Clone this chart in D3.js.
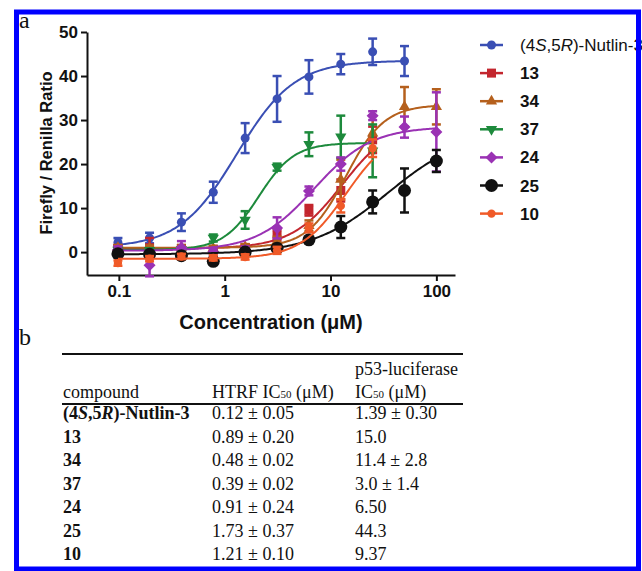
<!DOCTYPE html>
<html>
<head>
<meta charset="utf-8">
<script src="https://cdn.jsdelivr.net/npm/d3@7"></script>
<style>
  body { margin: 0; background: #fff; }
  svg { display: block; }
</style>
</head>
<body>
<div id="chart"></div>
<script>
// concentrations (uM), shared by all compounds
var conc = [0.098, 0.195, 0.39, 0.78, 1.56, 3.125, 6.25, 12.5, 25, 50, 100];

// series values (null = not measured)
var names = ["nutlin", "13", "34", "37", "24", "25", "10"];
var nutlin = [2.2, 3.2, 6.8, 13.6, 25.9, 34.8, 39.8, 42.7, 45.5, 43.4, null];
var nutlin_err = [1.0, 1.2, 2.0, 2.4, 3.4, 5.2, 3.8, 2.3, 3.0, 3.4, null];
var c13 = [0.8, 1.0, 0.8, 0.6, 1.0, 3.8, 9.5, 14.0, 25.5, null, null];
var c13_err = [0.8, 2.2, 0.8, 0.8, 0.8, 1.2, 1.2, 2.5, 3.0, null, null];
var c34 = [1.0, 0.9, 1.0, 0.8, 1.2, 2.5, 6.0, 16.5, 27.0, 33.0, 33.0];
var c34_err = [0.6, 0.6, 0.6, 0.6, 0.6, 1.0, 1.2, 4.5, 4.0, 4.5, 4.0];
var c37 = [0.5, 0.4, 0.6, 3.2, 7.3, 19.3, 24.5, 26.2, 23.0, null, null];
var c37_err = [0.5, 0.5, 0.5, 0.8, 2.0, 0.8, 2.7, 4.8, 6.0, null, null];
var c24 = [0.5, -3.0, 1.0, 0.0, 0.5, 5.5, 13.9, 20.0, 31.0, 28.4, 27.3];
var c24_err = [0.8, 2.5, 1.5, 0.8, 0.8, 2.4, 1.0, 1.5, 1.0, 2.4, 9.0];
var c25 = [-0.4, -0.5, -0.8, -2.1, 0.0, 0.9, 2.8, 5.7, 11.4, 14.0, 20.7];
var c25_err = [0.5, 0.5, 0.6, 0.8, 0.5, 0.6, 0.6, 2.5, 2.6, 5.0, 2.5];
var c10 = [-2.5, -1.5, -1.0, -1.3, -1.1, 0.4, 5.5, 10.5, 23.6, null, null];
var c10_err = [0.6, 0.6, 0.6, 0.6, 0.6, 0.8, 1.0, 1.5, 2.0, null, null];

// fitted sigmoid parameters: bottom, top, EC50, hill, last conc
var fit_bottom = [1.0, 0.8, 1.0, 0.5, 0.3, -0.5, -1.5];
var fit_top = [43.5, 30, 33.5, 24.8, 28.5, 27.5, 28];
var fit_ec50 = [1.3, 13, 14, 2.1, 7, 35, 14];
var fit_hill = [1.6, 1.8, 2.4, 2.6, 1.6, 1.2, 2.0];
var fit_end = [50, 25, 100, 25, 100, 100, 25];

var colors = ['#3a4fb4', '#c3262e', '#b5601d', '#1d8a3c', '#9a32b4', '#111111', '#f05a28'];
var symbols = ['circle', 'square', 'triangle', 'triangledown', 'diamond', 'bigcircle', 'smallcircle'];
var labels = ['(4S,5R)-Nutlin-3', '13', '34', '37', '24', '25', '10'];

var values = [nutlin, c13, c34, c37, c24, c25, c10];
var errors = [nutlin_err, c13_err, c34_err, c37_err, c24_err, c25_err, c10_err];

// table
var tbl_compound = ['(4S,5R)-Nutlin-3', '13', '34', '37', '24', '25', '10'];
var tbl_htrf = ['0.12 ± 0.05', '0.89 ± 0.20', '0.48 ± 0.02', '0.39 ± 0.02', '0.91 ± 0.24', '1.73 ± 0.37', '1.21 ± 0.10'];
var tbl_p53 = ['1.39 ± 0.30', '15.0', '11.4 ± 2.8', '3.0 ± 1.4', '6.50', '44.3', '9.37'];

var x_ticks = [0.1, 1, 10, 100];
var y_ticks = [0, 10, 20, 30, 40, 50];

var width = 642;
var height = 571;

var svg = d3.select('#chart')
  .append('svg')
    .attr('width', width)
    .attr('height', height);

var x = d3.scaleLog().domain([0.05, 150]).range([87, 455]);
var y = d3.scaleLinear().domain([-5.2, 50]).range([275, 32]);

var sans = 'Liberation Sans, Arial, Helvetica, sans-serif';
var serif = 'Liberation Serif, Times New Roman, serif';

// axes
var xAxis = d3.axisBottom(x)
    .tickValues(x_ticks)
    .tickFormat(function(d) { return d < 1 ? d.toString() : d3.format('d')(d); })
    .tickSize(6)
    .tickPadding(4)
    .tickSizeOuter(0);
var gx = svg.append('g').attr('transform', 'translate(0,275)').call(xAxis);

var yAxis = d3.axisLeft(y)
    .tickValues(y_ticks)
    .tickSize(6)
    .tickPadding(3)
    .tickSizeOuter(0);
var gy = svg.append('g').attr('transform', 'translate(87,0)').call(yAxis);

[gx, gy].forEach(function(g) {
    g.selectAll('path, line').attr('stroke', '#111').attr('stroke-width', 2);
    g.selectAll('text')
        .attr('fill', '#111')
        .style('font-family', sans)
        .style('font-weight', 'bold')
        .style('font-size', '17px');
});

svg.append('text')
    .text('Concentration (μM)')
    .attr('x', 271)
    .attr('y', 329)
    .attr('text-anchor', 'middle')
    .style('font-family', sans)
    .style('font-weight', 'bold')
    .style('font-size', '20px')
    .attr('fill', '#111');

svg.append('text')
    .text('Firefly / Renilla Ratio')
    .attr('transform', 'translate(52,153) rotate(-90)')
    .attr('text-anchor', 'middle')
    .style('font-family', sans)
    .style('font-weight', 'bold')
    .style('font-size', '16.5px')
    .attr('fill', '#111');

// marker drawing
function marker(g, kind, color) {
    var s;
    if(kind == 'circle') {
        s = g.append('circle').attr('r', 4.5);
    }
    else if(kind == 'bigcircle') {
        s = g.append('circle').attr('r', 6.5);
    }
    else if(kind == 'smallcircle') {
        s = g.append('circle').attr('r', 4.2);
    }
    else if(kind == 'square') {
        s = g.append('rect').attr('x', -4.5).attr('y', -4.5).attr('width', 9).attr('height', 9);
    }
    else if(kind == 'diamond') {
        s = g.append('path').attr('d', 'M0,-6L6,0L0,6L-6,0Z');
    }
    else if(kind == 'triangle') {
        s = g.append('path').attr('d', d3.symbol().type(d3.symbolTriangle).size(55)());
    }
    else {
        s = g.append('path').attr('d', d3.symbol().type(d3.symbolTriangle).size(55)())
            .attr('transform', 'rotate(180)');
    }
    s.attr('fill', color);
}

var line = d3.line()
    .x(function(d) { return x(d[0]); })
    .y(function(d) { return y(d[1]); });

var plot = svg.append('g');

for(var i = 0; i < names.length; i++) {
    var color = colors[i];
    var g = plot.append('g');

    // fit curve sampled in log space
    var pts = d3.range(0, 201).map(function(k) {
        var lx = Math.log10(conc[0]) + (Math.log10(fit_end[i]) - Math.log10(conc[0])) * k / 200;
        var c = Math.pow(10, lx);
        var r = Math.pow(c / fit_ec50[i], fit_hill[i]);
        return [c, fit_bottom[i] + (fit_top[i] - fit_bottom[i]) * r / (1 + r)];
    });
    g.append('path')
        .attr('d', line(pts))
        .attr('fill', 'none')
        .attr('stroke', color)
        .attr('stroke-width', 2);

    var vals = values[i];
    var errs = errors[i];
    for(var j = 0; j < conc.length; j++) {
        if(vals[j] === null) continue;
        var cx = x(conc[j]);
        var y1 = y(vals[j] + errs[j]);
        var y2 = y(vals[j] - errs[j]);
        var eg = g.append('g').attr('stroke', color).attr('stroke-width', 2.5);
        eg.append('line').attr('x1', cx).attr('x2', cx).attr('y1', y1).attr('y2', y2);
        eg.append('line').attr('x1', cx - 4.5).attr('x2', cx + 4.5).attr('y1', y1).attr('y2', y1);
        eg.append('line').attr('x1', cx - 4.5).attr('x2', cx + 4.5).attr('y1', y2).attr('y2', y2);
        var mg = g.append('g').attr('transform', 'translate(' + cx + ',' + y(vals[j]) + ')');
        marker(mg, symbols[i], color);
    }
}

// legend
var legend = svg.append('g');
for(var i = 0; i < labels.length; i++) {
    var ly = 45 + i * 28.1;
    legend.append('line')
        .attr('x1', 480).attr('x2', 503)
        .attr('y1', ly).attr('y2', ly)
        .attr('stroke', colors[i]).attr('stroke-width', 2.5);
    var mg = legend.append('g').attr('transform', 'translate(491.5,' + ly + ')');
    marker(mg, symbols[i], colors[i]);
    var t = legend.append('text')
        .attr('x', 520)
        .attr('y', ly + 6)
        .style('font-family', sans)
        .style('font-size', '17px')
        .attr('fill', '#111');
    if(i == 0) {
        t.append('tspan').text('(4');
        t.append('tspan').text('S').style('font-style', 'italic');
        t.append('tspan').text(',5');
        t.append('tspan').text('R').style('font-style', 'italic');
        t.append('tspan').text(')-Nutlin-3');
    }
    else {
        t.text(labels[i]).style('font-weight', 'bold');
    }
}

// panel letters
svg.append('text').text('a').attr('x', 19).attr('y', 28)
    .style('font-family', serif).style('font-size', '24px').attr('fill', '#111');
svg.append('text').text('b').attr('x', 19).attr('y', 345)
    .style('font-family', serif).style('font-size', '24px').attr('fill', '#111');

// table
var tb = svg.append('g')
    .style('font-family', serif)
    .style('font-size', '18px')
    .attr('fill', '#111');
var col_x = [63, 212, 355];

tb.append('line').attr('x1', 62).attr('x2', 463).attr('y1', 354).attr('y2', 354)
    .attr('stroke', '#111').attr('stroke-width', 2);
tb.append('line').attr('x1', 62).attr('x2', 463).attr('y1', 404).attr('y2', 404)
    .attr('stroke', '#111').attr('stroke-width', 2);

tb.append('text').attr('x', col_x[0]).attr('y', 398).text('compound');
var h2 = tb.append('text').attr('x', col_x[1]).attr('y', 398);
h2.append('tspan').text('HTRF IC');
h2.append('tspan').text('50').style('font-size', '11px');
h2.append('tspan').text(' (μM)');
tb.append('text').attr('x', col_x[2]).attr('y', 375).text('p53-luciferase');
var h3 = tb.append('text').attr('x', col_x[2]).attr('y', 398);
h3.append('tspan').text('IC');
h3.append('tspan').text('50').style('font-size', '11px');
h3.append('tspan').text(' (μM)');

for(var r = 0; r < tbl_compound.length; r++) {
    var by = 419 + r * 23.5;
    var tc = tb.append('text').attr('x', col_x[0]).attr('y', by).style('font-weight', 'bold');
    if(r == 0) {
        tc.append('tspan').text('(4');
        tc.append('tspan').text('S').style('font-style', 'italic');
        tc.append('tspan').text(',5');
        tc.append('tspan').text('R').style('font-style', 'italic');
        tc.append('tspan').text(')-Nutlin-3');
    }
    else {
        tc.text(tbl_compound[r]);
    }
    tb.append('text').attr('x', col_x[1]).attr('y', by).text(tbl_htrf[r]);
    tb.append('text').attr('x', col_x[2]).attr('y', by).text(tbl_p53[r]);
}

// blue frame
svg.append('rect')
    .attr('x', 16.5).attr('y', 12)
    .attr('width', 622).attr('height', 557)
    .attr('fill', 'none')
    .attr('stroke', '#0000ff')
    .attr('stroke-width', 5);
</script>
</body>
</html>
